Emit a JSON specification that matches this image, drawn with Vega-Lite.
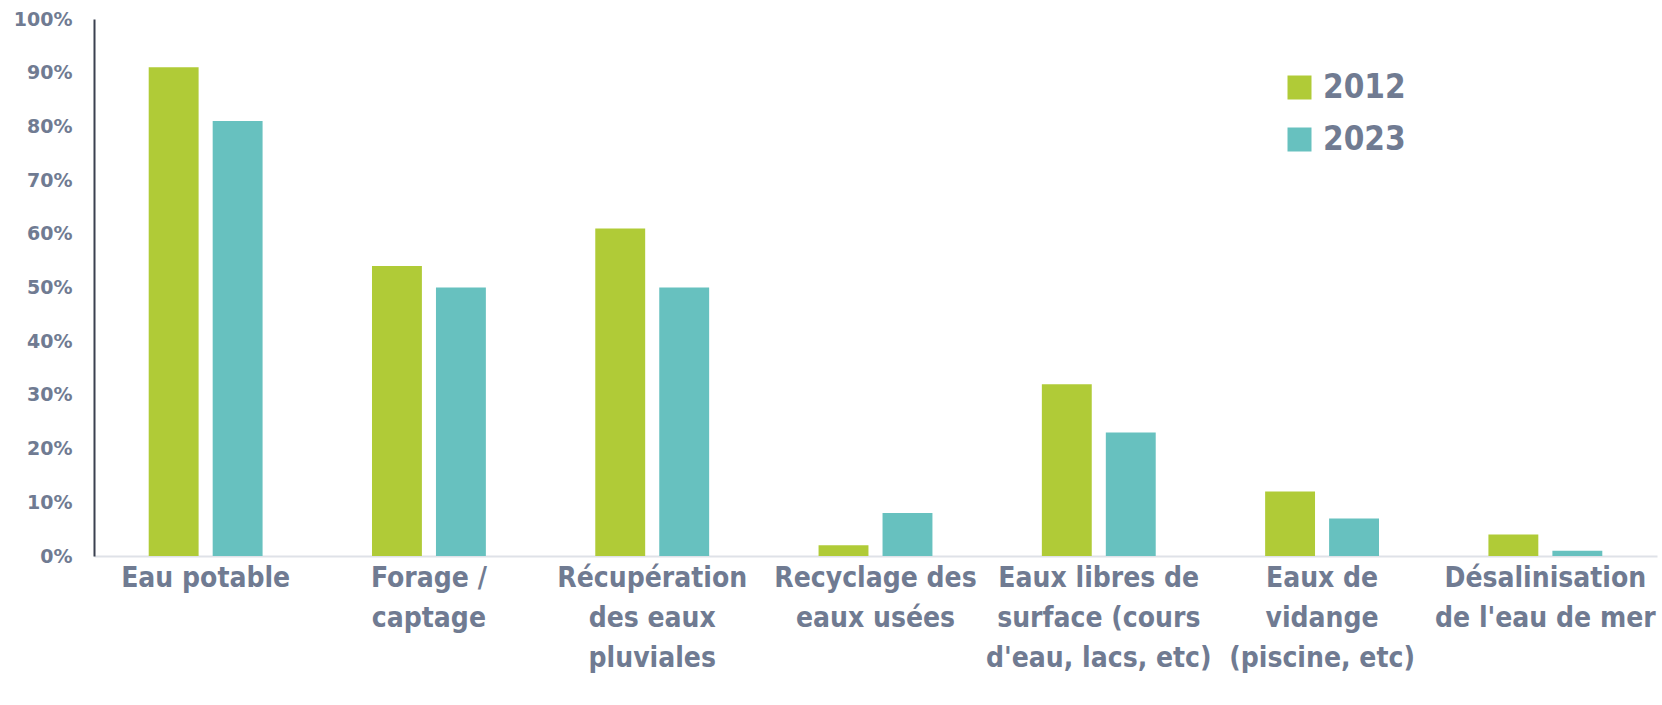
{
  "$schema": "https://vega.github.io/schema/vega-lite/v6.json",
  "width": 1563,
  "height": 537,
  "autosize": {"type": "none"},
  "padding": {"left": 94, "top": 19, "right": 5, "bottom": 149},
  "background": "white",
  "config": {"view": {"stroke": null}},
  "data": {
    "values": [
      {"usage": "Eau potable", "annee": "2012", "part": 0.91},
      {"usage": "Eau potable", "annee": "2023", "part": 0.81},
      {"usage": "Forage / captage", "annee": "2012", "part": 0.54},
      {"usage": "Forage / captage", "annee": "2023", "part": 0.50},
      {"usage": "Récupération des eaux pluviales", "annee": "2012", "part": 0.61},
      {"usage": "Récupération des eaux pluviales", "annee": "2023", "part": 0.50},
      {"usage": "Recyclage des eaux usées", "annee": "2012", "part": 0.02},
      {"usage": "Recyclage des eaux usées", "annee": "2023", "part": 0.08},
      {"usage": "Eaux libres de surface (cours d'eau, lacs, etc)", "annee": "2012", "part": 0.32},
      {"usage": "Eaux libres de surface (cours d'eau, lacs, etc)", "annee": "2023", "part": 0.23},
      {"usage": "Eaux de vidange (piscine, etc)", "annee": "2012", "part": 0.12},
      {"usage": "Eaux de vidange (piscine, etc)", "annee": "2023", "part": 0.07},
      {"usage": "Désalinisation de l'eau de mer", "annee": "2012", "part": 0.04},
      {"usage": "Désalinisation de l'eau de mer", "annee": "2023", "part": 0.01}
    ]
  },
  "mark": {"type": "bar"},
  "encoding": {
    "x": {
      "field": "usage",
      "type": "nominal",
      "sort": null,
      "scale": {"paddingInner": 0.49, "paddingOuter": 0.245},
      "axis": {
        "title": null,
        "labelAngle": 0,
        "ticks": false,
        "domainColor": "#dfe2e8",
        "domainWidth": 2,
        "labelFont": "'Liberation Sans Narrow', 'DejaVu Sans Condensed', sans-serif",
        "labelFontWeight": "bold",
        "labelFontSize": 28,
        "labelColor": "#707b92",
        "labelPadding": 8,
        "labelLineHeight": 40,
        "labelBaseline": "top",
        "labelLimit": 400,
        "labelOverlap": false,
        "labelExpr": "datum.value == 'Forage / captage' ? ['Forage /', 'captage'] : datum.value == 'Récupération des eaux pluviales' ? ['Récupération', 'des eaux', 'pluviales'] : datum.value == 'Recyclage des eaux usées' ? ['Recyclage des', 'eaux usées'] : datum.value == \"Eaux libres de surface (cours d'eau, lacs, etc)\" ? ['Eaux libres de', 'surface (cours', \"d'eau, lacs, etc)\"] : datum.value == 'Eaux de vidange (piscine, etc)' ? ['Eaux de', 'vidange', '(piscine, etc)'] : datum.value == \"Désalinisation de l'eau de mer\" ? ['Désalinisation', \"de l'eau de mer\"] : datum.value"
      }
    },
    "xOffset": {
      "field": "annee",
      "type": "nominal",
      "scale": {"paddingInner": 0.22}
    },
    "y": {
      "field": "part",
      "type": "quantitative",
      "scale": {"domain": [0, 1], "nice": false},
      "axis": {
        "title": null,
        "format": ".0%",
        "values": [0, 0.1, 0.2, 0.3, 0.4, 0.5, 0.6, 0.7, 0.8, 0.9, 1],
        "labelOverlap": false,
        "grid": false,
        "ticks": false,
        "domainColor": "#3b4150",
        "domainWidth": 2,
        "labelFont": "DejaVu Sans",
        "labelFontWeight": "bold",
        "labelFontSize": 19,
        "labelColor": "#707b92",
        "labelPadding": 22
      }
    },
    "color": {
      "field": "annee",
      "type": "nominal",
      "scale": {"domain": ["2012", "2023"], "range": ["#b0cb37", "#67c1bf"]},
      "legend": {
        "title": null,
        "orient": "none",
        "legendX": 1189,
        "legendY": 52,
        "symbolType": "square",
        "symbolSize": 576,
        "symbolStrokeWidth": 0,
        "labelFont": "'Liberation Sans Narrow', 'DejaVu Sans Condensed', sans-serif",
        "labelFontWeight": "bold",
        "labelFontSize": 33,
        "labelColor": "#707b92",
        "labelOffset": 7,
        "rowPadding": 18
      }
    }
  }
}
